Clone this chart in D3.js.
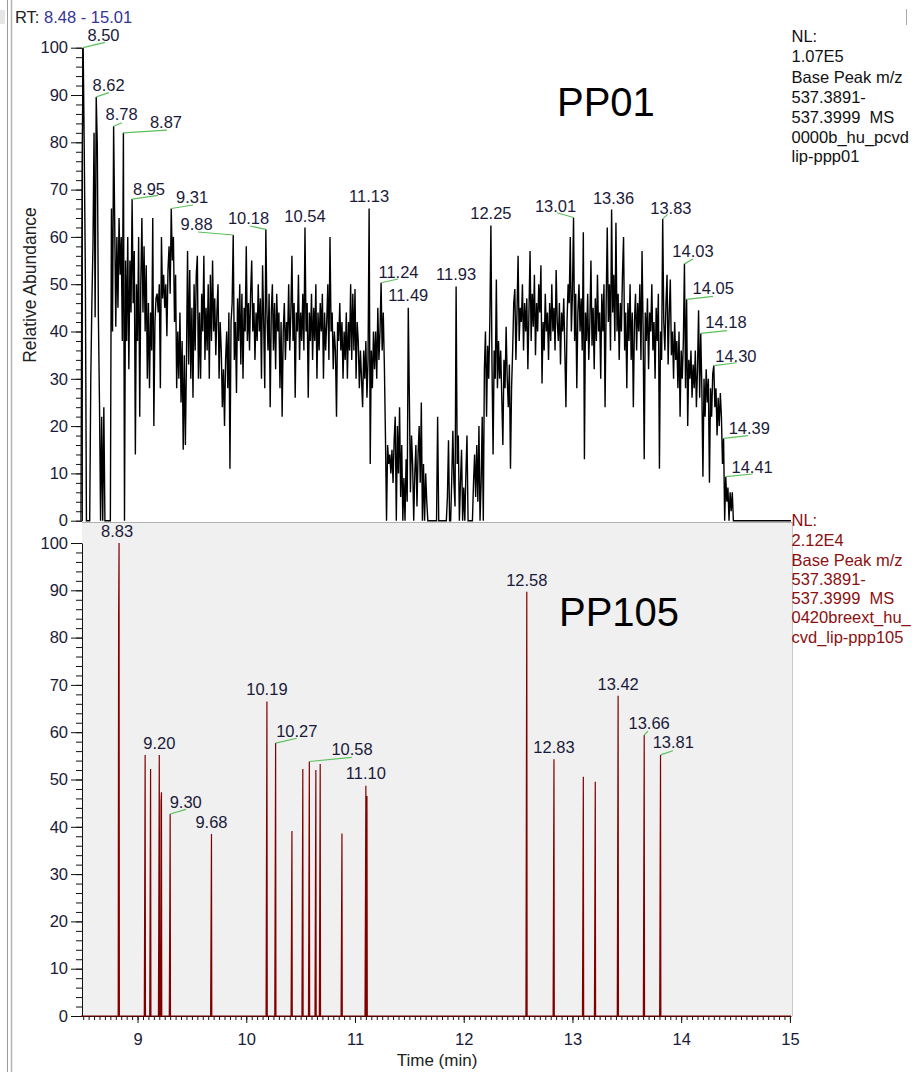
<!DOCTYPE html>
<html>
<head>
<meta charset="utf-8">
<script src="https://cdn.jsdelivr.net/npm/d3@7"></script>
<style>
  body { margin: 0; background: #fff; }
  svg text { font-family: "Liberation Sans", Arial, sans-serif; }
</style>
</head>
<body>
<div id="chart"></div>
<script>
// ---- data ----
// PP01 base peak trace, one value per scan step starting at rtStart
const rtStart = 8.48, rtStep = 0.01, rtEnd = 15.01;
const pp01Abundance = [
  0, 74, 100, 78, 52, 0, 0, 0, 0, 30,
  46, 58, 82, 43, 89.6, 79.4, 43, 25, 0, 22,
  0, 24, 0, 0, 0, 0, 0, 0, 66, 40,
  83.4, 63, 41, 60, 45, 64, 52, 60, 38, 82,
  0, 55, 38, 60, 32, 55, 44, 68, 46, 57,
  14, 50, 38, 60, 22, 50, 64, 44, 58, 40,
  54, 30, 46, 28, 44, 36, 64, 20, 42, 47,
  48, 44, 50, 28, 60, 47, 52, 45, 50, 39,
  53, 58, 48, 66, 55, 60, 42, 52, 28, 40,
  30, 44, 25, 38, 15, 35, 16, 34, 57, 33,
  53, 30, 45, 26, 50, 36, 52, 56, 30, 44,
  30, 48, 40, 56, 34, 45, 36, 50, 30, 52,
  38, 55, 40, 47, 35, 44, 50, 30, 42, 36,
  24, 32, 20, 34, 40, 28, 44, 11, 42, 46,
  60.4, 34, 42, 27, 47, 38, 50, 33, 48, 30,
  45, 40, 58, 38, 46, 36, 48, 55, 40, 46,
  34, 44, 38, 50, 40, 47, 30, 54, 42, 28,
  61.6, 44, 36, 48, 24, 44, 50, 36, 46, 32,
  48, 40, 44, 28, 42, 22, 40, 46, 34, 42,
  38, 50, 36, 44, 56, 38, 46, 26, 44, 40,
  52, 34, 44, 38, 48, 36, 62, 40, 46, 26,
  44, 38, 48, 34, 45, 38, 50, 30, 44, 36,
  46, 40, 48, 30, 44, 36, 42, 50, 34, 60,
  40, 44, 32, 40, 36, 22, 42, 38, 46, 36,
  42, 30, 40, 34, 44, 30, 42, 36, 50, 34,
  48, 36, 49, 30, 42, 38, 28, 36, 30, 24,
  36, 30, 38, 26, 34, 66, 12, 36, 28, 40,
  32, 40, 30, 45, 34, 40, 50.3, 36, 44, 33,
  18, 0, 16, 12, 14, 10, 15, 8, 17, 22,
  0, 20, 10, 24, 5, 16, 0, 9, 0, 13,
  4, 45, 26, 6, 18, 12, 0, 10, 16, 3,
  14, 20, 8, 25, 0, 12, 0, 10, 4, 0,
  0, 0, 0, 0, 0, 0, 0, 0, 22, 0,
  0, 0, 0, 0, 0, 0, 0, 5, 17, 0,
  0, 9, 19, 8, 3, 49.5, 12, 18, 0, 8,
  15, 0, 7, 0, 10, 18, 0, 0, 0, 0,
  0, 8, 14, 5, 16, 4, 20, 0, 8, 22,
  0, 32, 40, 22, 37, 30, 42, 62.4, 33, 14,
  36, 30, 51, 28, 38, 30, 36, 26, 16, 34,
  28, 41, 30, 24, 33, 11, 28, 36, 46, 49,
  34, 44, 56, 38, 45, 42, 50, 36, 46, 40,
  47, 32, 44, 57, 38, 48, 41, 52, 35, 46,
  40, 50, 44, 54, 29, 42, 36, 48, 40, 44,
  34, 46, 38, 50, 40, 45, 36, 53, 42, 38,
  46, 33, 44, 40, 47, 36, 24, 42, 50, 46,
  60, 40, 48, 64.1, 38, 48, 28, 44, 50, 40,
  47, 36, 61, 13, 44, 38, 48, 34, 42, 55,
  37, 45, 32, 47, 38, 52, 40, 44, 30, 48,
  40, 50, 24, 46, 62, 42, 50, 36, 65.8, 44,
  52, 38, 63, 40, 48, 34, 46, 40, 52, 60,
  36, 44, 28, 46, 38, 50, 34, 44, 24, 42,
  48, 36, 46, 40, 50, 34, 57, 40, 13, 44,
  38, 47, 32, 44, 40, 50, 36, 42, 30, 45,
  38, 48, 11, 40, 34, 63.8, 42, 36, 46, 52,
  33, 44, 51, 35, 40, 30, 42, 34, 38, 28,
  40, 22, 36, 30, 38, 54.3, 28, 46.8, 20, 34,
  30, 36, 26, 33, 28, 36, 24, 32, 44.5, 26,
  39.6, 28, 9.3, 30, 22, 32, 25, 30, 8, 28,
  22, 31, 32.8, 24, 28, 18, 26, 20, 27, 22,
  12, 17.4, 0, 9.3, 4, 7, 0, 6, 2, 6,
  0, 0, 0
];
const pp01PeakTimes = [8.50, 8.62, 8.78, 8.87, 8.95, 9.31, 9.88, 10.18, 10.54, 11.13, 11.24,
  11.49, 11.93, 12.25, 13.01, 13.36, 13.83, 14.03, 14.05, 14.18, 14.30, 14.39, 14.41];

// PP105: narrow peaks, apex and the shoulder scan next to it
const pp105Times    = [8.83, 9.07, 9.12, 9.20, 9.22, 9.30, 9.68, 10.19, 10.27, 10.42, 10.52, 10.58,
  10.64, 10.68, 10.88, 11.10, 11.11, 12.58, 12.83, 13.10, 13.21, 13.42, 13.66, 13.81];
const pp105Apex     = [100, 55.2, 52.2, 55.2, 47.3, 42.7, 38.5, 66.5, 57.7, 39.1, 52.2, 53.8,
  52.0, 53.3, 38.6, 48.7, 46.5, 89.7, 54.3, 50.6, 49.5, 67.7, 59.4, 55.2];
const pp105Shoulder = [84.6, 27.3, 25.9, 27.5, 45.3, 21.1, 19.1, 33.1, 28.8, 19.4, 25.9, 26.6,
  25.9, 26.6, 19.2, 24, 23, 44.8, 27, 25, 24.5, 33.5, 29.6, 27.5];
const pp105PeakTimes = [8.83, 9.20, 9.30, 9.68, 10.19, 10.27, 10.58, 11.10, 12.58, 12.83, 13.42, 13.66, 13.81];

const yMajorTicks = [0, 10, 20, 30, 40, 50, 60, 70, 80, 90, 100];
const xMajorTicks = [9, 10, 11, 12, 13, 14, 15];
const info01  = ["NL:", "1.07E5", "Base Peak m/z", "537.3891-", "537.3999\u00a0 MS", "0000b_hu_pcvd", "lip-ppp01"];
const info105 = ["NL:", "2.12E4", "Base Peak m/z", "537.3891-", "537.3999\u00a0 MS", "0420breext_hu_", "cvd_lip-ppp105"];

// label layout: [text dx, baseline dy, leader end dx, leader end dy] relative to peak apex
const labelPos01 = [[20.3,-6.7,21.8,-5.4],[12.3,-5.9,12.8,-4.2],[7.9,-6.2,8.4,-3.5],[42.6,-4.8,43.6,-2.8],
  [16.9,-4.1,25.9,-3.6],[20.8,-5.5,21.8,-3.5],[-36.7,-5,-35.2,-3],[-17.3,-5.3,-15.8,-3.3],[0,-5.4],
  [0,-6.8],[17.4,-5.1,16.9,-3.8],[0,-6.9],[0,-6.6],[0,-6.5],[-18,-5.5,-16.5,-4.8],[2,-5.9],
  [8.2,-5.1,4.9,-4.6],[8.5,-6.6,8.5,-4.9],[26.6,-5,26.3,-3],[25.2,-5.7,26.2,-2.7],[22.1,-3.8,22.8,-2.8],
  [25.7,-4.1,24.4,-2.7],[26.4,-4,26.9,-2.7]];
const labelPos105 = [[-2,-6.3],[0,-5.6],[15.6,-5.7,15.8,-4.7],[0,-5.6],[0,-6.5],[21.2,-5.8,21.1,-4.8],
  [42.7,-6.5,42.4,-4.2],[0,-6.3],[0,-5.7],[0,-5.9],[0,-5.8],[4.9,-5.7,3.7,-4],[12.8,-6.6,12.4,-4.2]];

// ---- drawing ----
const width = 912, height = 1072;
const svg = d3.select('#chart').append('svg')
  .attr('width', width).attr('height', height);

const x = d3.scaleLinear().domain([rtStart, rtEnd]).range([81, 791]);
const yTop = d3.scaleLinear().domain([0, 100]).range([520.7, 47.7]);
const yBot = d3.scaleLinear().domain([0, 100]).range([1016, 543]);

const labelColor = '#1a1a38';
const leaderColor = '#5cbf5c';
const fontStack = '"Liberation Sans", Arial, sans-serif';

// window frame bits
svg.append('rect').attr('x', 0).attr('y', 10).attr('width', 5).attr('height', 14).attr('fill', '#e6e6e6');
svg.append('line').attr('x1', 7.5).attr('x2', 7.5).attr('y1', 0).attr('y2', height).attr('stroke', '#9a9a9a');
svg.append('line').attr('x1', 11.5).attr('x2', 11.5).attr('y1', 0).attr('y2', height).attr('stroke', '#b4b4b4').attr('stroke-width', 1.5);
svg.append('line').attr('x1', 906.5).attr('x2', 906.5).attr('y1', 9).attr('y2', 25).attr('stroke', '#aaa');

// bottom panel background
svg.append('rect').attr('x', 82).attr('y', 522).attr('width', 710).attr('height', yBot(0) - 522)
  .attr('fill', '#f0f0f0');
svg.append('line').attr('x1', 82).attr('x2', 792).attr('y1', 522.5).attr('y2', 522.5).attr('stroke', '#b0b0b0');
svg.append('line').attr('x1', 792.5).attr('x2', 792.5).attr('y1', 522).attr('y2', yBot(0)).attr('stroke', '#c8c8c8');

// header
const rt = svg.append('text').attr('x', 15).attr('y', 23).attr('font-size', 16.5);
rt.append('tspan').attr('fill', '#222').text('RT: ');
rt.append('tspan').attr('fill', '#333399').text('8.48 - 15.01');

// y axes
function yAxes(scale) {
  const g = svg.append('g').attr('transform', 'translate(82,0)');
  g.append('g').call(d3.axisLeft(scale).tickValues(d3.range(0, 101, 2)).tickSize(6).tickFormat(''))
    .call(a => a.select('.domain').remove());
  g.append('g').call(d3.axisLeft(scale).tickValues(yMajorTicks).tickSize(11).tickSizeOuter(0).tickPadding(3))
    .call(a => a.selectAll('text').attr('font-size', 16.5).attr('fill', labelColor)
      .style('font-family', fontStack));
  g.selectAll('line, path').attr('stroke', '#111');
}
yAxes(yTop);
yAxes(yBot);

svg.append('text').attr('transform', 'translate(36,285) rotate(-90)')
  .attr('text-anchor', 'middle').attr('font-size', 17.5).attr('fill', '#222').text('Relative Abundance');

// x axis (bottom panel)
const xg = svg.append('g').attr('transform', `translate(0,${yBot(0)})`);
xg.append('g').call(d3.axisBottom(x).tickValues(d3.range(8.5, 15.001, 0.05)).tickSize(4).tickFormat(''))
  .call(a => a.select('.domain').remove());
xg.append('g').call(d3.axisBottom(x).tickValues(xMajorTicks).tickSize(7).tickSizeOuter(0).tickPadding(10).tickFormat(d3.format('d')))
  .call(a => a.selectAll('text').attr('font-size', 16.5).attr('fill', labelColor)
    .style('font-family', fontStack));
xg.selectAll('line, path').attr('stroke', '#111');
svg.append('text').attr('x', 437).attr('y', 1066).attr('text-anchor', 'middle')
  .attr('font-size', 17).attr('fill', '#222').text('Time (min)');

// PP01 trace
const trace01 = pp01Abundance.map((v, i) => [rtStart + i * rtStep, v]);
trace01.push([rtEnd, 0]);
const line01 = d3.line().x(d => x(d[0])).y(d => yTop(d[1]));
svg.append('path').datum(trace01).attr('d', line01)
  .attr('fill', 'none').attr('stroke', '#000').attr('stroke-width', 1.4)
  .attr('stroke-linejoin', 'miter').attr('stroke-miterlimit', 2);

// PP105 trace: baseline with sharp peaks
const trace105 = [[rtStart, 0]];
pp105Times.forEach((t, i) => {
  trace105.push([t - 0.008, 0], [t - 0.004, pp105Shoulder[i]], [t, pp105Apex[i]], [t + 0.003, 0]);
});
trace105.push([rtEnd, 0]);
const line105 = d3.line().x(d => x(d[0])).y(d => yBot(d[1]));
svg.append('path').datum(trace105).attr('d', line105)
  .attr('fill', 'none').attr('stroke', '#800000').attr('stroke-width', 1.2)
  .attr('stroke-linejoin', 'miter').attr('stroke-miterlimit', 2);

// peak labels
function peakLabels(times, valueAt, yScale, layout) {
  const g = svg.append('g');
  times.forEach((t, i) => {
    const px = x(t), py = yScale(valueAt(t));
    const p = layout[i];
    if (p.length > 2) {
      g.append('line').attr('x1', px).attr('y1', py).attr('x2', px + p[2]).attr('y2', py + p[3])
        .attr('stroke', leaderColor).attr('stroke-width', 1.2);
    }
    g.append('text').attr('x', px + p[0]).attr('y', py + p[1]).attr('text-anchor', 'middle')
      .attr('font-size', 16.5).attr('fill', labelColor).text(t.toFixed(2));
  });
}
peakLabels(pp01PeakTimes, t => pp01Abundance[Math.round((t - rtStart) / rtStep)], yTop, labelPos01);
peakLabels(pp105PeakTimes, t => pp105Apex[pp105Times.indexOf(t)], yBot, labelPos105);

// info blocks
function info(lines, baselines, color) {
  lines.forEach((s, i) => {
    svg.append('text').attr('x', 791.5).attr('y', baselines[i]).attr('font-size', 16.5)
      .attr('fill', color).text(s);
  });
}
info(info01, [41.7, 61.7, 83.3, 103.3, 123.3, 143.3, 162], '#111');
info(info105, [526, 545.5, 566, 585, 604.3, 623.3, 643.3], '#8b1010');

// sample names
svg.append('text').attr('x', 557).attr('y', 116).attr('font-size', 40).attr('fill', '#000').text('PP01');
svg.append('text').attr('x', 559).attr('y', 626).attr('font-size', 40).attr('fill', '#000').text('PP105');
</script>
</body>
</html>
